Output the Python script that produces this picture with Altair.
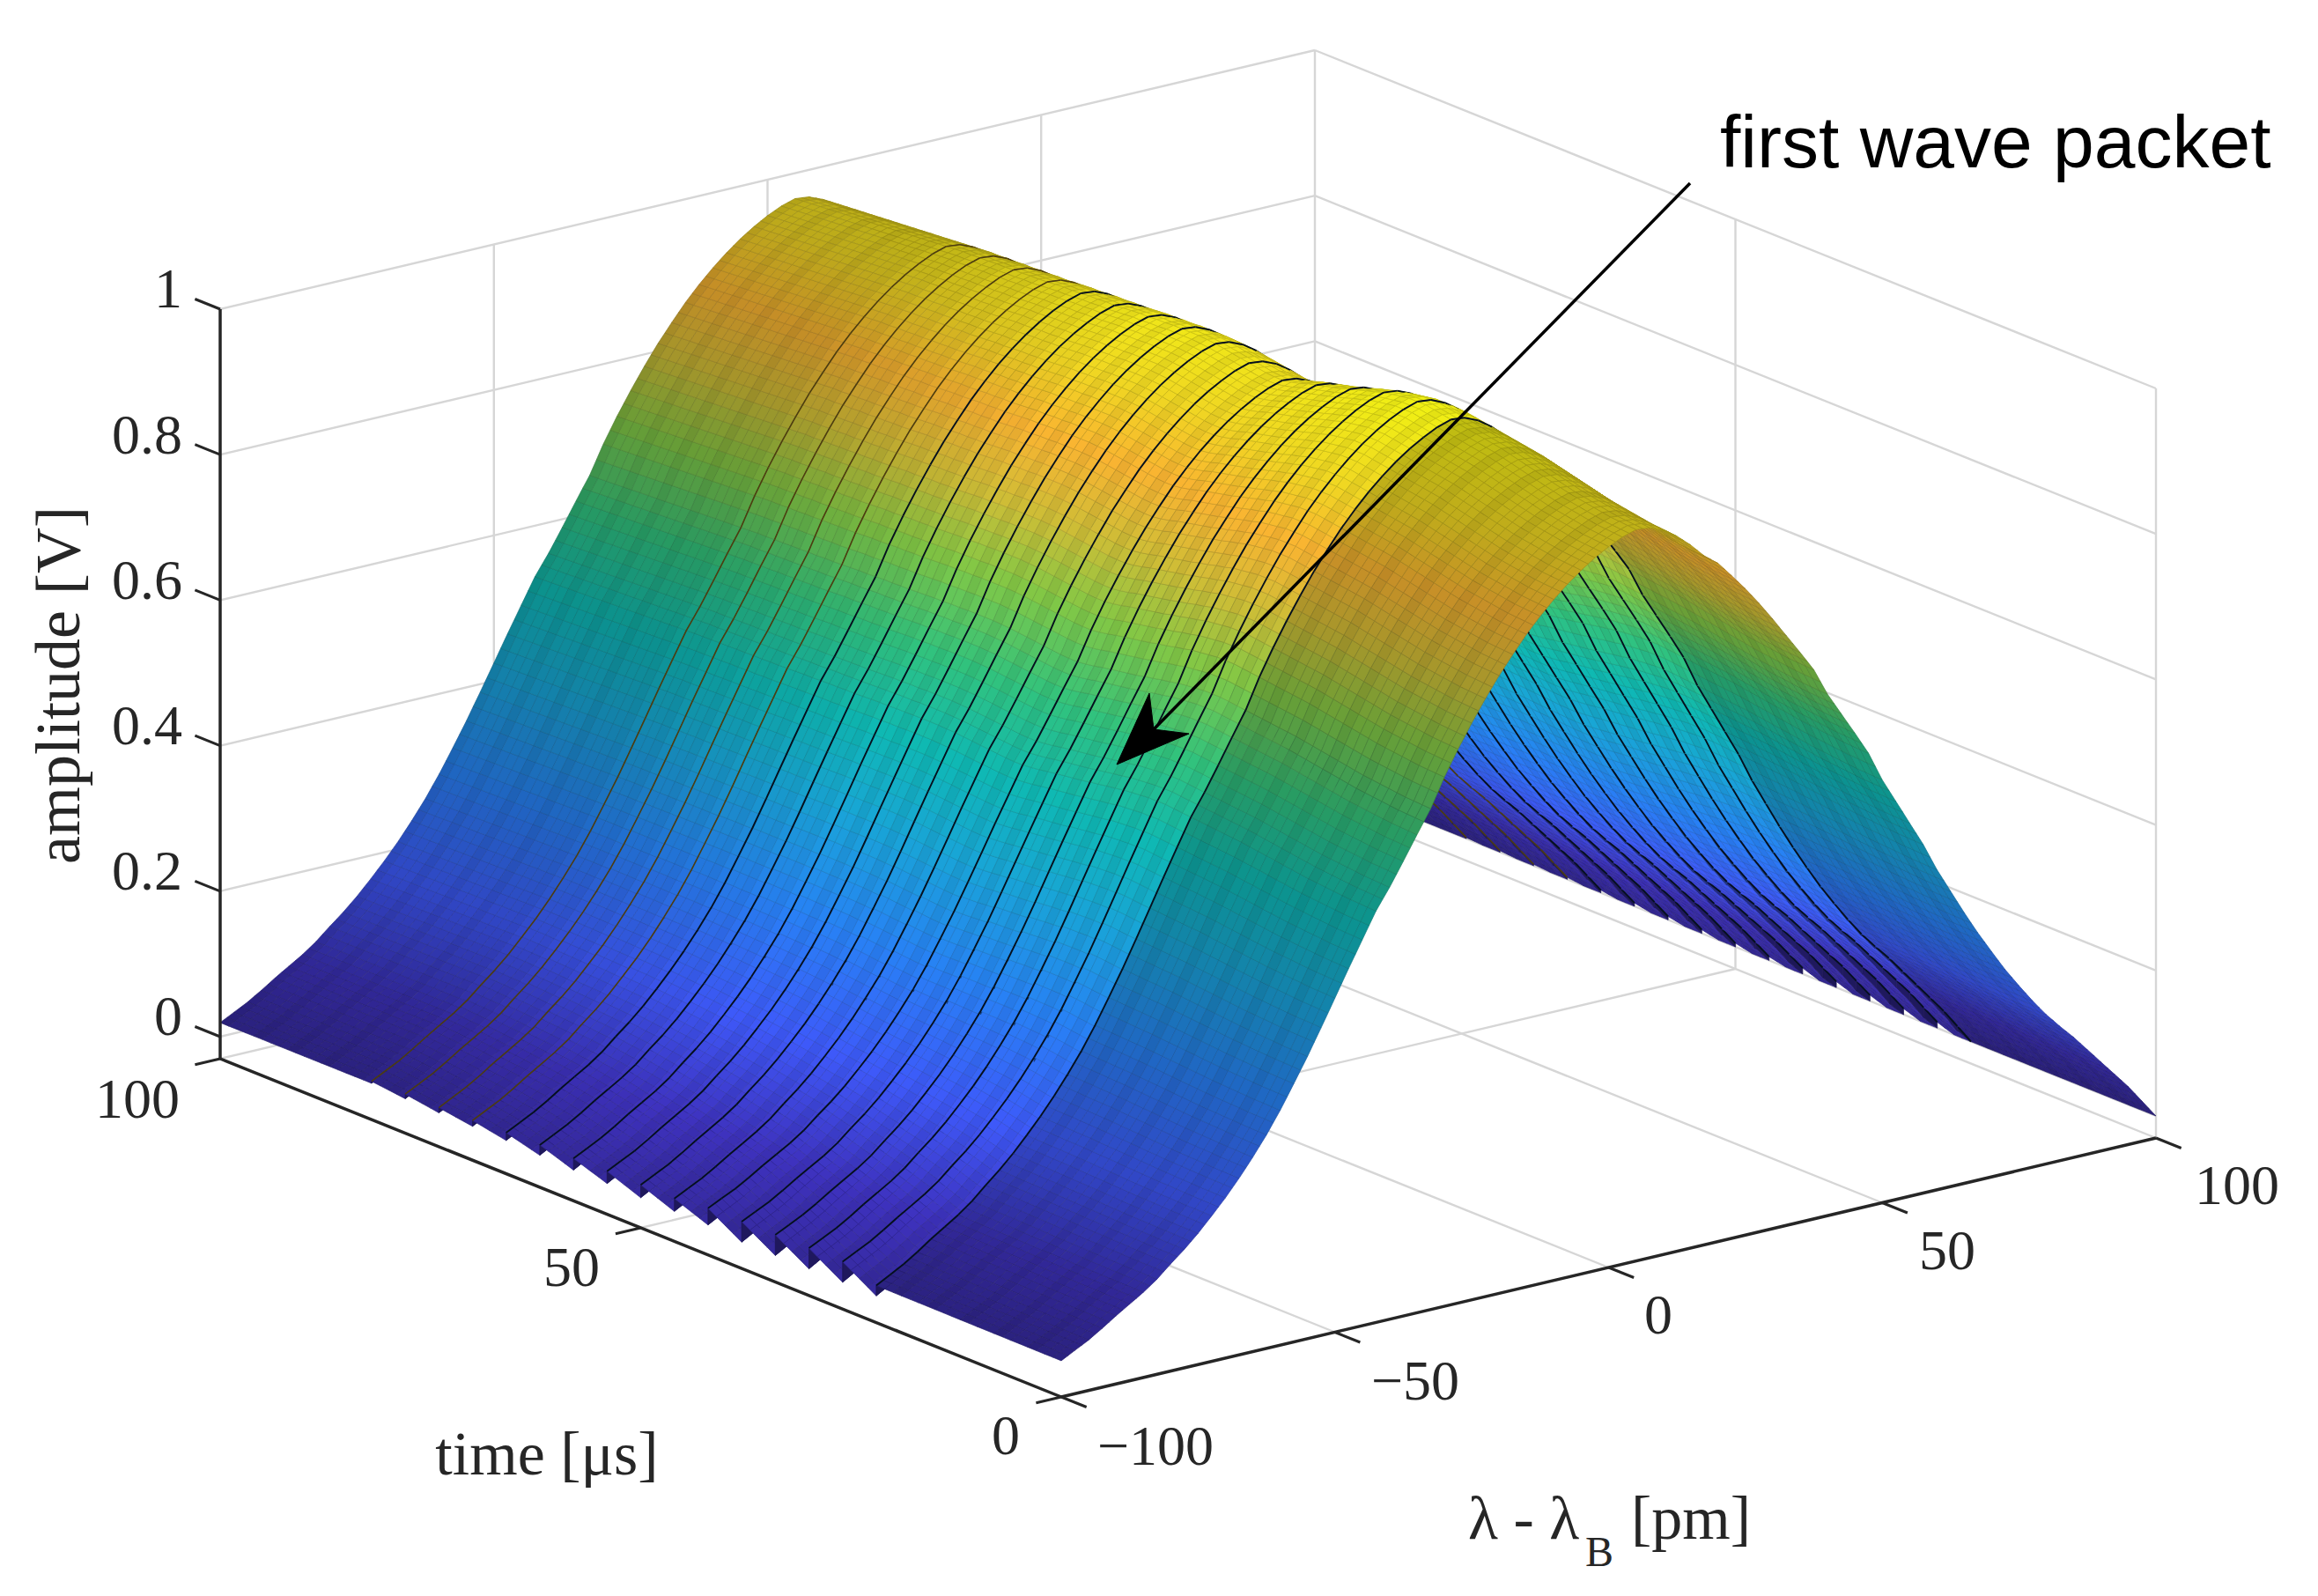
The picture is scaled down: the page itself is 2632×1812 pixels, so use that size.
import altair as alt
import numpy as np
import pandas as pd

W, H = 2616, 1790
OFF = 8

# picture geometry of the 3-D box (floor corners in reference pixels)
A = (250, 1202)   # t=100, lambda=-100
B = (1205, 1586)  # t=0,   lambda=-100
C = (2448, 1292)  # t=0,   lambda=100
Z_PX = 826
Z_FLOOR = -0.0303

time_ticks = [0, 50, 100]
wave_ticks = [-100, -50, 0, 50, 100]
amp_ticks = [0, 0.2, 0.4, 0.6, 0.8, 1]

# amplitude profile across the wavelength axis (lambda = -100 ... 100, step 2.5)
profile = [
    .020, .030, .040, .052, .065, .077, .089, .103, .120, .136,
    .154, .174, .195, .218, .243, .270, .300, .333, .367, .403,
    .440, .477, .513, .549, .578, .610, .643, .675, .715, .750,
    .782, .812, .840, .865, .889, .910, .929, .946, .961, .974,
    .985, .994, 1.000, .998, .990, .977, .960, .940, .925, .903,
    .880, .855, .828, .800, .772, .743, .704, .672, .640, .607,
    .565, .530, .495, .460, .420, .385, .350, .317, .286, .256,
    .229, .203, .179, .158, .138, .116, .094, .072, .050, .025,
    .000,
]

# crest height along the time axis (t = 0 ... 100, step 1)
crest = [
    .975, .976, .977, .978, .980, .982, .984, .986, .988, .991,
    .994, .997, 1.000, 1.003, 1.006, 1.009, 1.012, 1.014, 1.016, 1.018,
    1.020, 1.022, 1.024, 1.026, 1.028, 1.030, 1.030, 1.030, 1.028, 1.026,
    1.024, 1.020, 1.017, 1.013, 1.010, 1.006, 1.003, 1.000, .997, .994,
    .990, .987, .985, .985, .986, .988, .990, .992, .994, .996,
    .998, .999, 1.000, 1.000, 1.000, 1.000, .999, .999, .998, .998,
    .997, .996, .995, .995, .994, .994, .993, .992, .992, .991,
    .990, .989, .989, .988, .988, .987, .987, .986, .986, .985,
    .985, .984, .983, .982, .981, .980, .979, .978, .977, .976,
    .975, .974, .973, .972, .971, .970, .969, .968, .967, .966,
    .965,
]

# the black ridges: time rows where a wave-packet step starts, and the step height
step_rows = [22, 26, 30, 34, 38, 42, 46, 50, 54, 58, 62, 66, 70, 74, 78, 82]
step_height = [.032, .032, .032, .032, .032, .020, .020, .020, .018, .018, .014, .010, .008, .008, .006]
step_ink = ["#05101e"] * 12 + ["#4d3d10"] * 4
step_width = [1.9] * 12 + [1.6] * 4

# brightness bands of the surface along time
band_edges = [0, 22, 60, 64, 68, 72, 76, 80, 84, 101]
band_light = [.80, 1.0, .97, .94, .91, .88, .85, .82, .79, .77]

# colour map stops
cm_z = [0, .08, .18, .30, .42, .52, .62, .72, .80, .88, .95, 1.03]
cm_r = [52, 62, 62, 40, 25, 15, 50, 130, 205, 250, 240, 240]
cm_g = [40, 50, 90, 130, 165, 185, 195, 200, 190, 180, 215, 240]
cm_b = [150, 190, 250, 245, 215, 180, 125, 70, 55, 50, 35, 20]

# annotation arrow
arrow_line_x = [1919, 1310]
arrow_line_y = [208, 828]
arrow_head_x = [1268, 1305, 1310, 1350]
arrow_head_y = [868, 787, 828, 833]


def project(T, u, z):
    x = B[0] + (A[0] - B[0]) * T + (C[0] - B[0]) * u
    y = B[1] + (A[1] - B[1]) * T + (C[1] - B[1]) * u - Z_PX * (z - Z_FLOOR)
    return round(x - OFF, 1), round(y - OFF, 1)


def depth(T, u, z):
    return -1243 * T - 955 * u + 918 * z


def hexcol(z, light):
    r = np.interp(z, cm_z, cm_r) * light
    g = np.interp(z, cm_z, cm_g) * light
    b = np.interp(z, cm_z, cm_b) * light
    return "#%02x%02x%02x" % (int(r), int(g), int(b))


def strip_of(i):
    """Index of the step strip that the interval i..i+1 belongs to, or None."""
    for k in range(len(step_rows) - 1):
        if step_rows[k] <= i < step_rows[k + 1]:
            return k
    return None


def height(i, j, k):
    z = crest[i] * profile[j]
    if k is not None:
        a, b = step_rows[k], step_rows[k + 1]
        frac = (i - a) / (b - a)
        far = 0.5 if j > 40 else 1.0
        z += far * step_height[k] * (frac - 0.5) * (1 - profile[j]) ** 6
    return max(z, 0.0)


def facet(T0, T1, u0, u1, zs, fill, stroke, w, d):
    ring = [project(T0, u0, zs[0]), project(T0, u1, zs[1]), project(T1, u1, zs[2]),
            project(T1, u0, zs[3]), project(T0, u0, zs[0])]
    return (d, {
        "type": "Feature",
        "geometry": {"type": "Polygon", "coordinates": [ring]},
        "properties": {"fill": fill, "stroke": stroke, "w": w},
    })


items = []
n_t, n_u = len(crest), len(profile)
for i in range(n_t - 1):
    k = strip_of(i)
    light = band_light[int(np.searchsorted(band_edges, i, side="right")) - 1]
    T0, T1 = i / 100, (i + 1) / 100
    l = light * (1.0 - 0.05 * (i % 4 == 3))
    for j in range(n_u - 1):
        u0, u1 = j / 80, (j + 1) / 80
        um = (u0 + u1) / 2
        z00, z01 = height(i, j, k), height(i, j + 1, k)
        z10, z11 = height(i + 1, j, k), height(i + 1, j + 1, k)
        zm0, zm1 = (z00 + z01) / 2, (z10 + z11) / 2
        # each grid cell is drawn as two facets, as the mesh is finer than the read-off grid
        for ua, ub, zs in ((u0, um, (z00, zm0, zm1, z10)), (um, u1, (zm0, z01, z11, zm1))):
            zc = sum(zs) / 4
            items.append(facet(T0, T1, ua, ub, zs, hexcol(zc, l), hexcol(zc, l * 0.84), 0.7,
                               depth((T0 + T1) / 2, (ua + ub) / 2, zc)))

for m, i in enumerate(step_rows):
    below = m - 1 if m > 0 else None
    above = m if m < len(step_rows) - 1 else None
    T = i / 100
    for j in range(n_u - 1):
        u0, u1 = j / 80, (j + 1) / 80
        z0, z1 = height(i, j, below), height(i, j + 1, below)
        y0, y1 = height(i, j, above), height(i, j + 1, above)
        zc = (z0 + z1) / 2
        # riser between two steps, closes the gap seen from below
        items.append(facet(T, T, u0, u1, (z0, z1, y1, y0), hexcol(zc, 0.55), hexcol(zc, 0.5), 0.7,
                           depth(T, (u0 + u1) / 2, (z0 + z1 + y0 + y1) / 4) - 1))
        # the ink of the step is laid after every facet next to it
        items.append((depth(T, (u0 + u1) / 2, zc) + 24, {
            "type": "Feature",
            "geometry": {"type": "LineString",
                         "coordinates": [project(T, u0, z0), project(T, u1, z1)]},
            "properties": {"fill": "transparent", "stroke": step_ink[m], "w": step_width[m]},
        }))

items.sort(key=lambda p: p[0])
features = [p[1] for p in items]

sx = alt.Scale(domain=[0, W], range=[0, W])
sy = alt.Scale(domain=[0, H], range=[0, H])


def seg_df(segs):
    return pd.DataFrame([
        {"x": a[0], "y": a[1], "x2": b[0], "y2": b[1]} for a, b in segs
    ])


def rules(segs, color, width):
    return alt.Chart(seg_df(segs)).mark_rule(color=color, strokeWidth=width).encode(
        x=alt.X("x:Q", scale=sx, axis=None),
        y=alt.Y("y:Q", scale=sy, axis=None),
        x2="x2:Q",
        y2="y2:Q",
    )


grid = []
for z in amp_ticks:
    grid.append((project(1, 0, z), project(1, 1, z)))
    grid.append((project(1, 1, z), project(0, 1, z)))
for lam in wave_ticks[1:]:
    u = (lam + 100) / 200
    grid.append((project(1, u, Z_FLOOR), project(1, u, 1)))
    if lam < 100:
        grid.append((project(0, u, Z_FLOOR), project(1, u, Z_FLOOR)))
grid.append((project(0.5, 1, Z_FLOOR), project(0.5, 1, 1)))
grid.append((project(0.5, 0, Z_FLOOR), project(0.5, 1, Z_FLOOR)))
grid.append((project(1, 0, Z_FLOOR), project(1, 1, Z_FLOOR)))
grid.append((project(0, 1, Z_FLOOR), project(1, 1, Z_FLOOR)))
grid.append((project(0, 1, Z_FLOOR), project(0, 1, 1)))

axes = [
    (project(1, 0, Z_FLOOR), project(1, 0, 1)),
    (project(1, 0, Z_FLOOR), project(0, 0, Z_FLOOR)),
    (project(0, 0, Z_FLOOR), project(0, 1, Z_FLOOR)),
]
ticks = []
for z in amp_ticks:
    ticks.append((project(1, 0, z), project(1.03, 0, z)))
for t in time_ticks:
    ticks.append((project(t / 100, 0, Z_FLOOR), project(t / 100, -0.023, Z_FLOOR)))
for lam in wave_ticks:
    u = (lam + 100) / 200
    ticks.append((project(0, u, Z_FLOOR), project(-0.03, u, Z_FLOOR)))

surface = alt.Chart(alt.Data(values=features)).mark_geoshape().encode(
    fill=alt.Fill("properties.fill:N", scale=None),
    stroke=alt.Stroke("properties.stroke:N", scale=None),
    strokeWidth=alt.StrokeWidth("properties.w:Q", scale=None),
).project(type="identity", scale=1, translate=[0, 0])

head = {
    "type": "Feature",
    "geometry": {"type": "Polygon", "coordinates": [[
        [x - OFF, y - OFF] for x, y in zip(arrow_head_x + arrow_head_x[:1], arrow_head_y + arrow_head_y[:1])
    ]]},
}
arrowhead = alt.Chart(alt.Data(values=[head])).mark_geoshape(
    fill="black", stroke="black", strokeWidth=1
).project(type="identity", scale=1, translate=[0, 0])
arrow = rules([((arrow_line_x[0] - OFF, arrow_line_y[0] - OFF),
                (arrow_line_x[1] - OFF, arrow_line_y[1] - OFF))], "black", 3.5)


def texts(rows, font, size, align="right", angle=0, color="#262626"):
    df = pd.DataFrame([{"x": x - OFF, "y": y - OFF, "t": t} for x, y, t in rows])
    return alt.Chart(df).mark_text(
        font=font, fontSize=size, align=align, baseline="middle", angle=angle, color=color
    ).encode(
        x=alt.X("x:Q", scale=sx, axis=None),
        y=alt.Y("y:Q", scale=sy, axis=None),
        text="t:N",
    )


SERIF = "Liberation Serif"
amp_labels = texts([(207, 330, "1"), (207, 496, "0.8"), (207, 661, "0.6"),
                    (207, 826, "0.4"), (207, 991, "0.2"), (207, 1156, "0")], SERIF, 64)
other_labels = texts([(156, 1250, "100"), (649, 1441, "50"), (1142, 1632, "0"),
                      (1312, 1644, "\u2212100"), (1607, 1570, "\u221250"),
                      (1883, 1495, "0"), (2211, 1422, "50"), (2540, 1348, "100")],
                     SERIF, 64, align="center")
ylabel = texts([(68, 778, "amplitude [V]")], SERIF, 72, align="center", angle=270)
tlabel = texts([(621, 1653, "time [\u03bcs]")], SERIF, 70, align="center")
llabel1 = texts([(1667, 1726, "\u03bb - \u03bb"), (1852, 1726, "[pm]")], SERIF, 70, align="left")
llabel2 = texts([(1800, 1764, "B")], SERIF, 48, align="left")
note = texts([(1953, 165, "first wave packet")], "Liberation Sans", 84, align="left", color="black")

chart = alt.layer(
    rules(grid, "#d6d6d6", 2.4),
    surface,
    rules(axes, "#262626", 3.5),
    rules(ticks, "#262626", 3),
    arrow,
    arrowhead,
    amp_labels, other_labels, ylabel, tlabel, llabel1, llabel2, note,
).properties(
    width=W, height=H, padding=0,
    autosize=alt.AutoSizeParams(type="none"),
    background="white",
).configure_view(strokeWidth=0)

chart.save("out.html", embed_options={"renderer": "svg", "actions": False})
